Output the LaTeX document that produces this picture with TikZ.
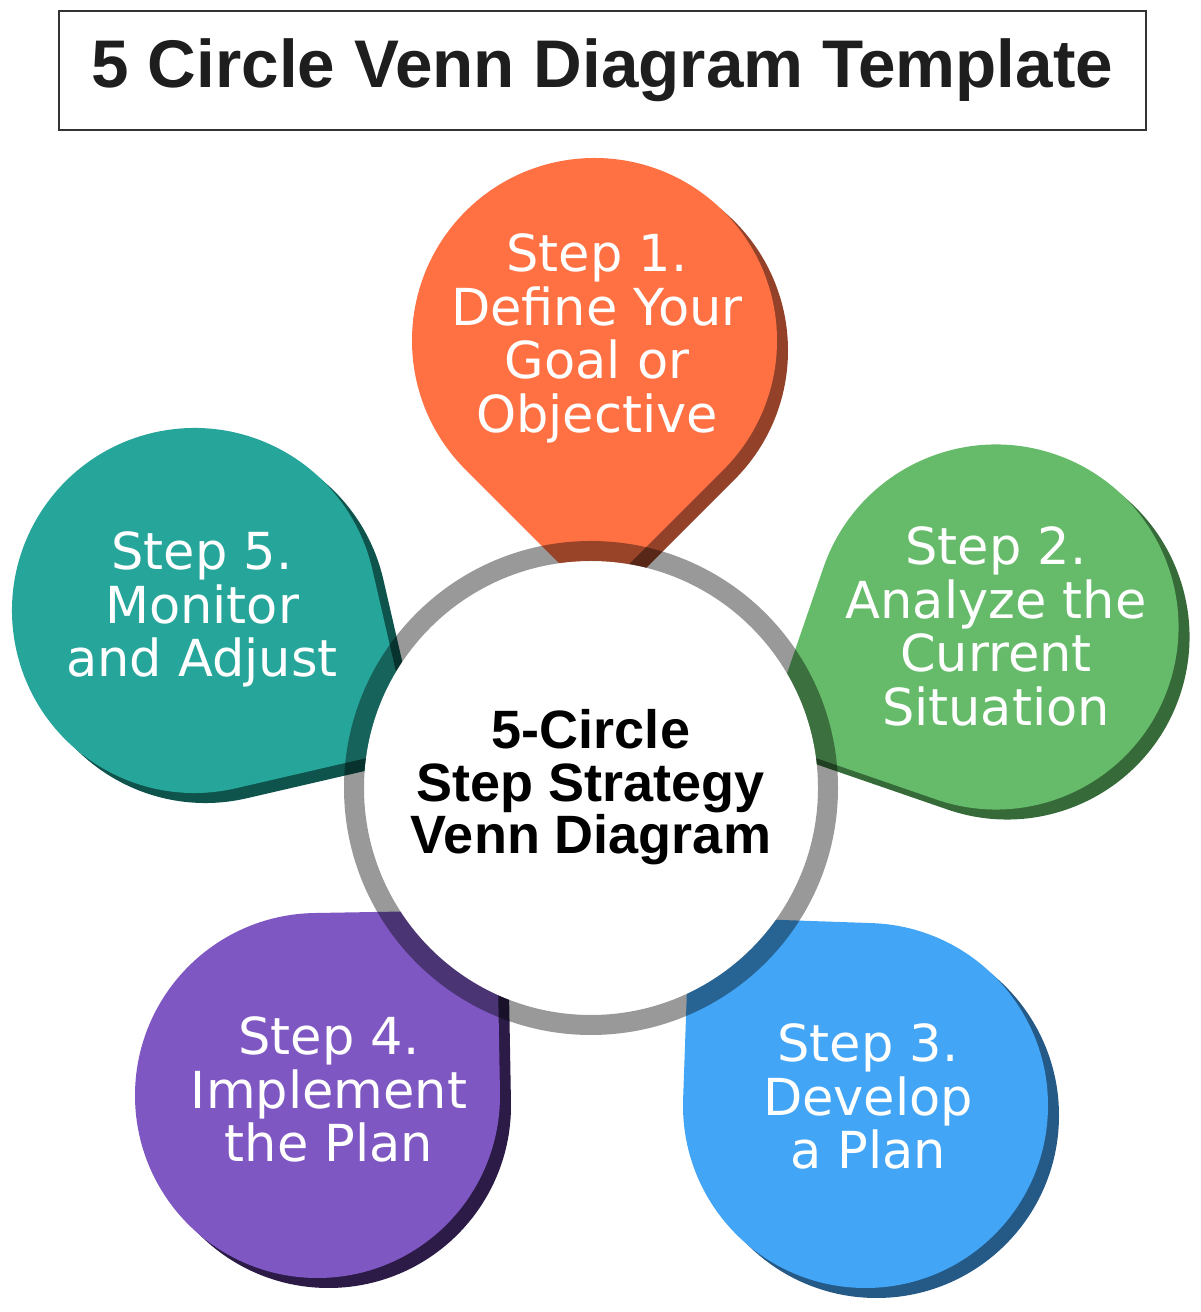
\documentclass[tikz,border=0pt]{standalone}
\usepackage{fontspec}
\setmainfont{DejaVu Sans}
\newfontfamily\boldfam{Liberation Sans}
\usetikzlibrary{calc}
\definecolor{cO}{HTML}{FF7043}\definecolor{cOs}{HTML}{934229}
\definecolor{cG}{HTML}{66BB6A}\definecolor{cGs}{HTML}{366B39}
\definecolor{cB}{HTML}{42A5F5}\definecolor{cBs}{HTML}{255A87}
\definecolor{cP}{HTML}{7E57C2}\definecolor{cPs}{HTML}{2B1B46}
\definecolor{cT}{HTML}{26A69A}\definecolor{cTs}{HTML}{0E544D}
\definecolor{frame}{HTML}{333333}
\definecolor{ink}{HTML}{1E1E1E}
\newcommand\mypetal[4]{%
  \fill[#4] ($(#1,#2)+({#3}:258)$) -- ($(#1,#2)+({#3+45}:182.5)$)
    arc[start angle={#3+45}, end angle={#3+315}, radius=182.5] -- cycle;}
\newcommand\mydrop[5]{% x y angle color shadowcolor
  \mypetal{#1+11}{#2-10}{#3}{#5}\mypetal{#1}{#2}{#3}{#4}}
\tikzset{
  steptext/.style={text=white, align=center, anchor=north, inner sep=0pt,
    font=\fontsize{51}{53.5}\selectfont},
  hubtext/.style={text=black, align=center, anchor=north, inner sep=0pt,
    font=\boldfam\bfseries\fontsize{54}{52.5}\selectfont},
}
\begin{document}
\begin{tikzpicture}[x=1pt,y=1pt]
\useasboundingbox (0,0) rectangle (1200,1312);
\fill[white] (0,0) rectangle (1200,1312);
% title
\node[draw=frame, line width=2pt, minimum width=1087pt, minimum height=119pt,
  inner sep=0pt, font=\boldfam\bfseries\fontsize{67.4}{70}\selectfont, text=ink]
  (title) at (602.5,1241.5) {5 Circle Venn Diagram Template};
% petals
\mydrop{594.5}{971.5}{-90}{cO}{cOs}
\mydrop{996}{685}{206}{cG}{cGs}
\mydrop{865.5}{206.5}{133}{cB}{cBs}
\mydrop{317.5}{216.5}{46}{cP}{cPs}
\mydrop{194.5}{701.5}{-32}{cT}{cTs}
% hub
\fill[white] (591,524) circle[radius=227];
\draw[black, opacity=0.4, line width=20pt] (591,524) circle[radius=237];
\node[hubtext] (hub) at (591,602.5) {5-Circle\\Step Strategy\\Venn Diagram};
% texts
\node[steptext] (s1) at (597,1078.5) {Step 1.\\Define Your\\Goal or\\Objective};
\node[steptext] (s2) at (996,785.5) {Step 2.\\Analyze the\\Current\\Situation};
\node[steptext] (s3) at (868,288.5) {Step 3.\\Develop\\a Plan};
\node[steptext] (s4) at (329,295.5) {Step 4.\\Implement\\the Plan};
\node[steptext] (s5) at (202,780.5) {Step 5.\\Monitor\\and Adjust};
\end{tikzpicture}
\end{document}
